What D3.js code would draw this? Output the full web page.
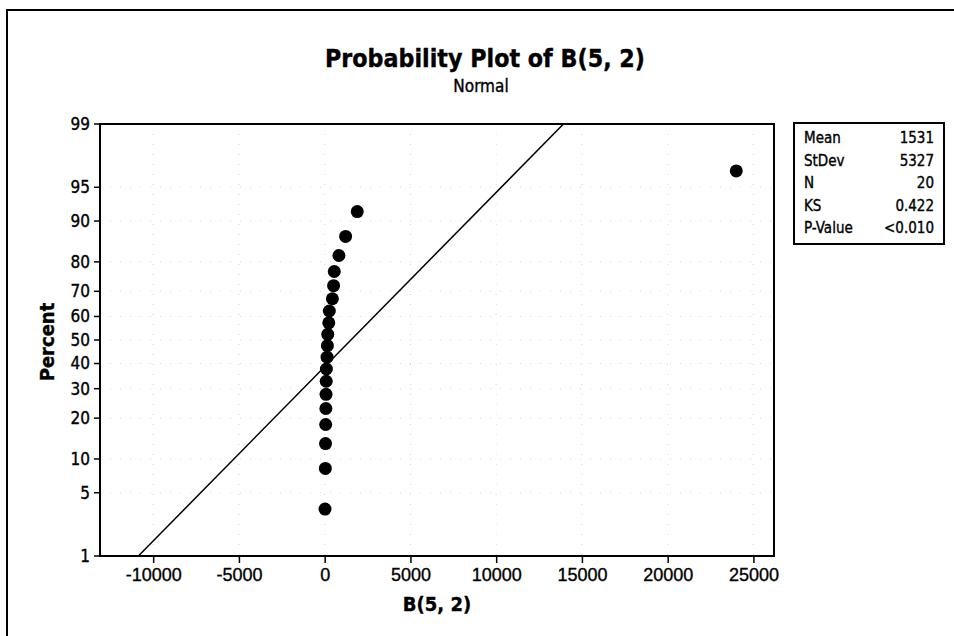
<!DOCTYPE html>
<html>
<head>
<meta charset="utf-8">
<script src="https://cdn.jsdelivr.net/npm/d3@7"></script>
<style>
  html, body { margin: 0; padding: 0; background: #fff; }
  svg { display: block; font-family: "DejaVu Sans Condensed", "DejaVu Sans", sans-serif; font-stretch: condensed; }
  .thick { stroke: #000; stroke-width: 0.35px; }
</style>
</head>
<body>
<svg id="chart" width="954" height="636"></svg>
<script>
// ---- data ----
const values = [20, 40, 50, 60, 70, 80, 90, 100, 140, 160, 180, 240, 270, 450, 520, 560, 830, 1220, 1900, 24000];
const fitMean = 1531;
const fitStDev = 5327;
const xTicks = [-10000, -5000, 0, 5000, 10000, 15000, 20000, 25000];
const yTicks = [1, 5, 10, 20, 30, 40, 50, 60, 70, 80, 90, 95, 99];
const statLabels = ["Mean", "StDev", "N", "KS", "P-Value"];
const statValues = ["1531", "5327", "20", "0.422", "<0.010"];
const title = "Probability Plot of B(5, 2)";
const subtitle = "Normal";
const xLabel = "B(5, 2)";
const yLabel = "Percent";

// inverse normal CDF (Acklam)
function qnorm(p) {
  const a = [-3.969683028665376e+01, 2.209460984245205e+02, -2.759285104469687e+02, 1.383577518672690e+02, -3.066479806614716e+01, 2.506628277459239e+00];
  const b = [-5.447609879822406e+01, 1.615858368580409e+02, -1.556989798598866e+02, 6.680131188771972e+01, -1.328068155288572e+01];
  const c = [-7.784894002430293e-03, -3.223964580411365e-01, -2.400758277161838e+00, -2.549732539343734e+00, 4.374664141464968e+00, 2.938163982698783e+00];
  const d = [7.784695709041462e-03, 3.224671290700398e-01, 2.445134137142996e+00, 3.754408661907416e+00];
  const pl = 0.02425, ph = 1 - pl;
  let q, r;
  if (p < pl) { q = Math.sqrt(-2 * Math.log(p)); return (((((c[0]*q+c[1])*q+c[2])*q+c[3])*q+c[4])*q+c[5]) / ((((d[0]*q+d[1])*q+d[2])*q+d[3])*q+1); }
  if (p <= ph) { q = p - 0.5; r = q*q; return (((((a[0]*r+a[1])*r+a[2])*r+a[3])*r+a[4])*r+a[5])*q / (((((b[0]*r+b[1])*r+b[2])*r+b[3])*r+b[4])*r+1); }
  q = Math.sqrt(-2 * Math.log(1 - p)); return -(((((c[0]*q+c[1])*q+c[2])*q+c[3])*q+c[4])*q+c[5]) / ((((d[0]*q+d[1])*q+d[2])*q+d[3])*q+1);
}

const svg = d3.select("#chart");
const L = 100, R = 774, T = 124, B = 556;

const x = d3.scaleLinear().domain([-13100, 26200]).range([L, R]);
const zScale = d3.scaleLinear().domain([qnorm(0.01), qnorm(0.99)]).range([B, T]);
const y = p => zScale(qnorm(p / 100));

// outer border
svg.append("rect").attr("x", 7).attr("y", 10).attr("width", 1000).attr("height", 700)
  .attr("fill", "none").attr("stroke", "#000").attr("stroke-width", 2);

// faint grid dots
const grid = svg.append("g").attr("stroke", "#d4d4d4").attr("stroke-width", 1).attr("stroke-dasharray", "1,9");
grid.selectAll("line.h").data(yTicks.slice(1, -1)).join("line")
  .attr("x1", L).attr("x2", R).attr("y1", d => y(d)).attr("y2", d => y(d));
grid.selectAll("line.v").data(xTicks).join("line")
  .attr("x1", d => x(d)).attr("x2", d => x(d)).attr("y1", T).attr("y2", B);

// title
svg.append("text").attr("x", 485).attr("y", 67).attr("text-anchor", "middle")
  .attr("font-size", 24).attr("font-weight", "bold").attr("textLength", 320).attr("lengthAdjust", "spacingAndGlyphs")
  .attr("class", "thick").text(title);
svg.append("text").attr("x", 481).attr("y", 92).attr("text-anchor", "middle")
  .attr("font-size", 17).attr("class", "thick").text(subtitle);

// axes
const xAxis = d3.axisBottom(x).tickValues(xTicks).tickSize(7).tickPadding(5).tickFormat(d => String(d));
const gx = svg.append("g").attr("transform", `translate(0,${B})`).call(xAxis);
gx.select(".domain").remove();
gx.selectAll("line").attr("stroke-width", 1.5);
gx.selectAll("text").attr("font-size", 18).attr("fill", "#000").attr("font-family", "inherit").attr("class", "thick");

const gy = svg.append("g");
gy.selectAll("line").data(yTicks).join("line")
  .attr("x1", L - 6).attr("x2", L).attr("y1", d => y(d)).attr("y2", d => y(d))
  .attr("stroke", "#000").attr("stroke-width", 1.5);
gy.selectAll("text").data(yTicks).join("text")
  .attr("x", L - 10).attr("y", d => y(d)).attr("dy", "0.35em").attr("text-anchor", "end")
  .attr("font-size", 17).attr("class", "thick").text(d => d);

// plot frame
svg.append("rect").attr("x", L).attr("y", T).attr("width", R - L).attr("height", B - T)
  .attr("fill", "none").attr("stroke", "#000").attr("stroke-width", 2);

// axis labels
svg.append("text").attr("x", (L + R) / 2).attr("y", 611).attr("text-anchor", "middle")
  .attr("font-size", 20).attr("font-weight", "bold").attr("class", "thick").text(xLabel);
svg.append("text").attr("transform", `translate(54,${(T + B) / 2 + 2}) rotate(-90)`).attr("text-anchor", "middle")
  .attr("font-size", 20).attr("font-weight", "bold").attr("class", "thick").text(yLabel);

// fitted line
const plot = svg.append("g");
const fitP = [1, 99];
plot.append("line")
  .attr("x1", x(fitMean + qnorm(fitP[0] / 100) * fitStDev)).attr("y1", y(fitP[0]))
  .attr("x2", x(fitMean + qnorm(fitP[1] / 100) * fitStDev)).attr("y2", y(fitP[1]))
  .attr("stroke", "#000").attr("stroke-width", 1.5);

// points (median ranks)
const n = values.length;
const sorted = values.slice().sort((a, b) => a - b);
plot.selectAll("circle").data(sorted).join("circle")
  .attr("cx", d => x(d)).attr("cy", (d, i) => y(100 * (i + 1 - 0.3) / (n + 0.4)))
  .attr("r", 6.5).attr("fill", "#000");

// stats box
const bx = 794, by = 123, bw = 150, bh = 121;
svg.append("rect").attr("x", bx).attr("y", by).attr("width", bw).attr("height", bh)
  .attr("fill", "#fff").attr("stroke", "#000").attr("stroke-width", 2);
const rows = svg.append("g").attr("font-size", 15);
rows.selectAll("text.l").data(statLabels).join("text").attr("class", "l thick")
  .attr("x", bx + 10).attr("y", (d, i) => by + 20 + i * 22.5).text(d => d);
rows.selectAll("text.v").data(statValues).join("text").attr("class", "v thick")
  .attr("x", bx + bw - 10).attr("y", (d, i) => by + 20 + i * 22.5).attr("text-anchor", "end").text(d => d);
</script>
</body>
</html>
